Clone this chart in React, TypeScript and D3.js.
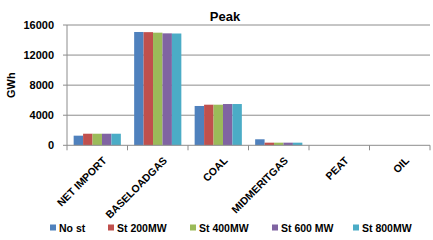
import {scaleBand, scaleLinear} from "d3";

const CATEGORIES = ["NET IMPORT", "BASELOADGAS", "COAL", "MIDMERITGAS", "PEAT", "OIL"];
const SERIES = ["No st", "St 200MW", "St 400MW", "St 600 MW", "St 800MW"];
const COLORS = ["#4F81BD", "#C0504D", "#9BBB59", "#8064A2", "#4BACC6"];
// values per series, in category order
const NO_ST = [1280, 15070, 5230, 800, 0, 0];
const ST_200 = [1540, 15050, 5400, 350, 0, 0];
const ST_400 = [1540, 14980, 5400, 350, 0, 0];
const ST_600 = [1540, 14890, 5490, 350, 0, 0];
const ST_800 = [1540, 14870, 5490, 350, 0, 0];
const Y_TICKS = [0, 4000, 8000, 12000, 16000];

const VALUES = [NO_ST, ST_200, ST_400, ST_600, ST_800];
const LEGEND_X = [50, 108, 190, 272, 353];

export default function App() {
  const width = 433;
  const height = 240;
  const plot = {left: 67, right: 430, top: 25, bottom: 145.3};

  const x = scaleBand<string>().domain(CATEGORIES).range([plot.left, plot.right]).paddingInner(0.22).paddingOuter(0.11);
  const step = (plot.right - plot.left) / CATEGORIES.length;
  const inner = scaleBand<string>().domain(SERIES).range([0, x.bandwidth()]);
  const y = scaleLinear().domain([0, 16000]).range([plot.bottom, plot.top]);

  const font = "'Liberation Sans', Arial, sans-serif";

  return (
    <svg width={width} height={height} style={{position: "absolute", left: 0, top: 0, background: "#fff"}} fontFamily={font}>
      <text x={225} y={21} textAnchor="middle" fontSize={13} fontWeight="bold">
        Peak
      </text>

      {Y_TICKS.map((tick) => (
        <g key={tick}>
          {tick > 0 && <line x1={plot.left} x2={plot.right} y1={y(tick)} y2={y(tick)} stroke="#8c8c8c" strokeWidth={1} />}
          <line x1={plot.left - 4} x2={plot.left} y1={y(tick)} y2={y(tick)} stroke="#8c8c8c" />
          <text x={54} y={y(tick) + 4} textAnchor="end" fontSize={11} fontWeight="bold">
            {tick}
          </text>
        </g>
      ))}

      <text transform={`translate(15,${(plot.top + plot.bottom) / 2}) rotate(-90)`} textAnchor="middle" fontSize={11} fontWeight="bold">
        GWh
      </text>

      {CATEGORIES.map((cat, ci) =>
        SERIES.map((s, si) => (
          <rect
            key={`${cat}-${s}`}
            x={(x(cat) ?? 0) + (inner(s) ?? 0)}
            y={y(VALUES[si][ci])}
            width={inner.bandwidth()}
            height={plot.bottom - y(VALUES[si][ci])}
            fill={COLORS[si]}
          />
        ))
      )}

      <line x1={plot.left} x2={plot.left} y1={plot.top} y2={plot.bottom} stroke="#8c8c8c" />
      <line x1={plot.left} x2={plot.right} y1={plot.bottom} y2={plot.bottom} stroke="#8c8c8c" />
      {CATEGORIES.map((cat, ci) => (
        <line key={`t-${cat}`} x1={plot.left + ci * step} x2={plot.left + ci * step} y1={plot.bottom} y2={plot.bottom + 5} stroke="#8c8c8c" />
      ))}
      <line x1={plot.right} x2={plot.right} y1={plot.bottom} y2={plot.bottom + 5} stroke="#8c8c8c" />

      {CATEGORIES.map((cat) => {
        const cx = (x(cat) ?? 0) + x.bandwidth() / 2 + 10;
        return (
          <text
            key={`l-${cat}`}
            transform={`translate(${cx},${plot.bottom + 16}) rotate(-45)`}
            textAnchor="end"
            fontSize={10.5}
            fontWeight="bold"
          >
            {cat}
          </text>
        );
      })}

      {SERIES.map((s, si) => (
        <g key={`lg-${s}`} transform={`translate(${LEGEND_X[si]},228)`}>
          <rect x={0} y={-3.5} width={6} height={6} fill={COLORS[si]} />
          <text x={9} y={3.5} fontSize={10.5} fontWeight="bold">
            {s}
          </text>
        </g>
      ))}
    </svg>
  );
}
